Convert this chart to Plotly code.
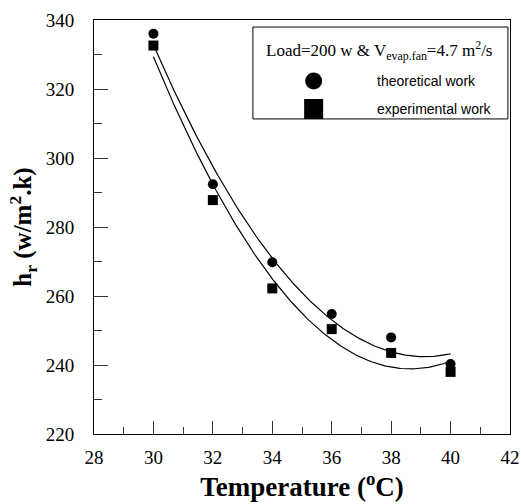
import numpy as np
import plotly.graph_objects as go

temperature = [30, 32, 34, 36, 38, 40]
theoretical = [336.0, 292.4, 269.8, 254.8, 248.0, 240.3]
experimental = [332.6, 287.8, 262.2, 250.4, 243.5, 238.0]

x_ticks = [28, 30, 32, 34, 36, 38, 40, 42]
y_ticks = [220, 240, 260, 280, 300, 320, 340]

legend_title = "Load=200 w & V<sub>evap.fan</sub>=4.7 m<sup>2</sup>/s"
series_names = ["theoretical work", "experimental work"]

# second-order trend lines through each series
xf = np.linspace(min(temperature), max(temperature), 200)
fit_t = np.polyval(np.polyfit(temperature, theoretical, 2), xf)
fit_e = np.polyval(np.polyfit(temperature, experimental, 2), xf)

fig = go.Figure()
fig.add_trace(go.Scatter(x=xf, y=fit_t, mode="lines", line=dict(color="black", width=1.2),
                         showlegend=False, hoverinfo="skip"))
fig.add_trace(go.Scatter(x=xf, y=fit_e, mode="lines", line=dict(color="black", width=1.2),
                         showlegend=False, hoverinfo="skip"))
fig.add_trace(go.Scatter(x=temperature, y=theoretical, mode="markers", name=series_names[0],
                         marker=dict(symbol="circle", size=10, color="black"),
                         showlegend=False))
fig.add_trace(go.Scatter(x=temperature, y=experimental, mode="markers", name=series_names[1],
                         marker=dict(symbol="square", size=10, color="black"),
                         showlegend=False))

serif = "Liberation Serif, Times New Roman, serif"
sans = "Liberation Sans, Arial, sans-serif"

# hand-made legend box (paper coordinates of the plot area)
fig.add_shape(type="rect", xref="paper", yref="paper", x0=0.382, x1=0.995, y0=0.761, y1=0.983,
              line=dict(color="black", width=1), fillcolor="white", layer="above")
fig.add_annotation(xref="paper", yref="paper", x=0.686, y=0.9275, text=legend_title,
                   showarrow=False, xanchor="center", yanchor="middle",
                   font=dict(family=serif, size=17, color="black"))
key_y = [0.8527, 0.785]
fig.add_shape(type="circle", xref="paper", yref="paper", xsizemode="pixel", ysizemode="pixel",
              xanchor=0.528, yanchor=key_y[0], x0=-8.5, x1=8.5, y0=-8.5, y1=8.5,
              fillcolor="black", line=dict(width=0), layer="above")
fig.add_shape(type="rect", xref="paper", yref="paper", xsizemode="pixel", ysizemode="pixel",
              xanchor=0.528, yanchor=key_y[1], x0=-9.5, x1=9.5, y0=-10, y1=10,
              fillcolor="black", line=dict(width=0), layer="above")
for name, yk in zip(series_names, key_y):
    fig.add_annotation(xref="paper", yref="paper", x=0.675, y=yk, text=name,
                       showarrow=False, xanchor="left", yanchor="middle",
                       font=dict(family=sans, size=14, color="black"))

fig.update_layout(
    template="none",
    width=521, height=504,
    margin=dict(l=94, r=11, t=20, b=70, autoexpand=False),
    plot_bgcolor="white", paper_bgcolor="white",
    font=dict(family=serif, color="black"),
    showlegend=False,
    xaxis=dict(
        automargin=False,
        range=[28, 42], tickvals=x_ticks, ticktext=[str(v) for v in x_ticks],
        ticks="inside", ticklen=13, tickwidth=1, tickcolor="#333",
        minor=dict(dtick=1, tick0=28, ticks="inside", ticklen=7, tickwidth=1, tickcolor="#333",
                   showgrid=False),
        showline=True, linecolor="black", linewidth=1, mirror=True,
        showgrid=False, zeroline=False,
        tickfont=dict(family=serif, size=19, color="black"),
        ticklabelstandoff=6,
        title=dict(text="<b>Temperature (<sup>o</sup>C)</b>",
                   font=dict(family=serif, size=27, color="black"), standoff=2),
    ),
    yaxis=dict(
        automargin=False,
        range=[220, 340], tickvals=y_ticks, ticktext=[str(v) for v in y_ticks],
        ticks="inside", ticklen=14, tickwidth=1, tickcolor="#333",
        minor=dict(dtick=10, tick0=220, ticks="inside", ticklen=8, tickwidth=1, tickcolor="#333",
                   showgrid=False),
        showline=True, linecolor="black", linewidth=1, mirror=True,
        showgrid=False, zeroline=False,
        tickfont=dict(family=serif, size=19, color="black"),
        ticklabelstandoff=15,
        title=dict(text="<b>h<sub>r</sub> (w/m<sup>2</sup>.k)</b>",
                   font=dict(family=serif, size=25, color="black"), standoff=6),
    ),
)

fig.write_html("out.html")
